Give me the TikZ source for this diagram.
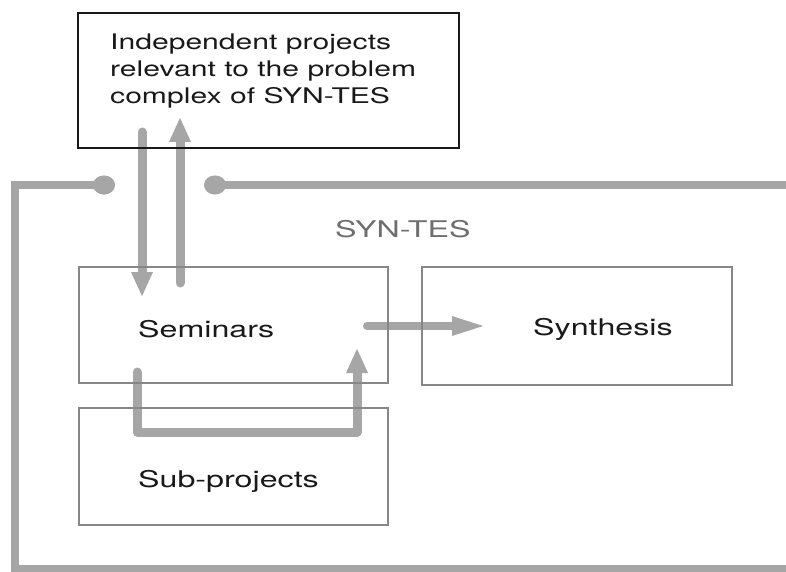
\documentclass[tikz,border=0pt]{standalone}
\usepackage{fontspec}
\setmainfont{TeX Gyre Heros}[FakeStretch=1.4]
\usetikzlibrary{arrows.meta}
\definecolor{arrowgrey}{RGB}{166,166,166}
\definecolor{boxgrey}{RGB}{135,135,135}
\definecolor{titlegrey}{RGB}{110,110,110}
\definecolor{inkblack}{RGB}{25,25,25}
\pgfdeclarelayer{background}
\pgfsetlayers{background,main}

\begin{document}
\begin{tikzpicture}[x=1pt,y=-1pt,
	box/.style={draw=boxgrey, line width=2pt, inner sep=0pt},
	boxtext/.style={anchor=base west, inner sep=0pt, text=inkblack, font=\fontsize{23}{27}\selectfont},
	flow/.style={draw=arrowgrey, line width=9pt, line cap=round, line join=round,
		-{Triangle[length=25pt,width=20pt]}},
	frameline/.style={draw=arrowgrey, line width=8pt,
		{Circle[length=22pt,width=19pt]}-}]
	\useasboundingbox (0,0) rectangle (786,572);
	
	% boxes
	\node[draw=inkblack, line width=2.5pt, inner sep=0pt, minimum width=381pt, minimum height=135pt] (indep) at (268.5,80.5) {};
	\node[box, minimum width=309pt, minimum height=116pt] (sem) at (233.5,325) {};
	\node[box, minimum width=309pt, minimum height=117pt] (sub) at (233.5,466.5) {};
	\node[box, minimum width=310pt, minimum height=118pt] (syn) at (577,326) {};
	
	% texts
	\node[anchor=north west, inner sep=0pt, align=left, text=inkblack, font=\fontsize{21.5}{26.7}\selectfont] (indeptext) at (110,34)
	{Independent projects\\relevant to the problem\\complex of SYN-TES};
	\node[boxtext] (semtext) at (138,337) {Seminars};
	\node[boxtext] (syntext) at (533,335) {Synthesis};
	\node[boxtext] (subtext) at (138,487) {Sub-projects};
	\node[boxtext, text=titlegrey] (title) at (335,237) {SYN-TES};
	
	% arrow ends
	\coordinate (downS) at (142,132);
	\coordinate (downE) at (142,297);
	\coordinate (upS) at (180,283);
	\coordinate (upE) at (180,117);
	\coordinate (loopS) at (137,372);
	\coordinate (loopE) at (357,348);
	\coordinate (toSynS) at (367,326);
	\coordinate (toSynE) at (487,326);
	
	% frame ends
	\coordinate (ldot) at (115,185);
	\coordinate (rdot) at (204,185);
	
	\begin{pgfonlayer}{background}
		\draw[flow] (downS) -- (downE);
		\draw[flow] (upS) -- (upE);
		\draw[flow] (loopS) -- (loopS |- 0,432) -- (loopE |- 0,432) -- (loopE);
		\draw[flow, line width=8pt, -{Triangle[length=35pt,width=17pt]}] (toSynS) -- (toSynE);
		
		% SYN-TES frame
		\draw[frameline] (ldot) -- (15,185) -- (15,569) -- (786,569);
		\draw[frameline] (rdot) -- (786,185);
	\end{pgfonlayer}
\end{tikzpicture}
\end{document}
